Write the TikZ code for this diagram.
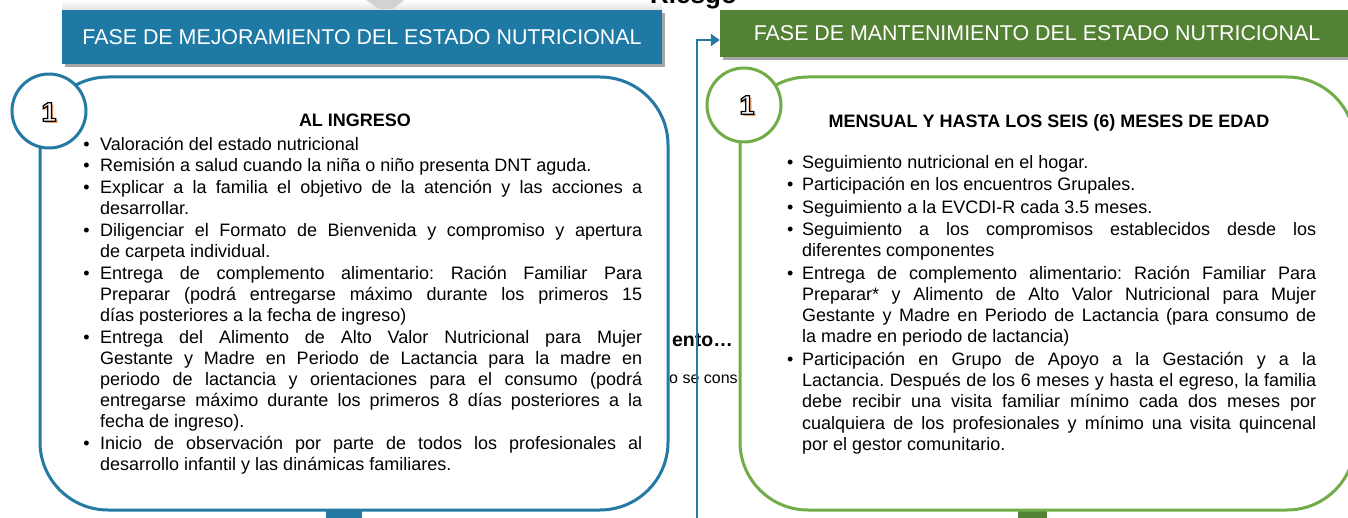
\documentclass[tikz,border=0pt]{standalone}
\usepackage{fontspec}
\setmainfont{Liberation Sans}
\usetikzlibrary{shadows,calc,arrows.meta}
\definecolor{hblue}{RGB}{31,121,165}
\definecolor{bblue}{RGB}{36,122,163}
\definecolor{hgreen}{RGB}{84,130,53}
\definecolor{bgreen}{RGB}{112,173,71}
\definecolor{sorange}{RGB}{240,160,100}
\newcommand\bitem[2]{\par\noindent\llap{\textbullet\hspace{#1}}#2}
\newcommand\bodysetup[1]{\frenchspacing\hyphenpenalty=10000 \tolerance=10000 \emergencystretch=20pt \setlength\parskip{#1}}
\newcommand\firststrut{\vrule height 17pt depth 0pt width 0pt\relax}
\newcommand\olone{\rlap{\hspace{2pt}\raisebox{-2pt}{\textcolor{sorange}{1}}}{\color{white}\special{pdf:literal direct 2 Tr 0 0 0 RG 1.3 w}1\special{pdf:literal direct 0 Tr}}}
\begin{document}
\begin{tikzpicture}[x=1pt,y=-1pt,
  header/.style={text=white, font=\fontsize{21.4}{24}\selectfont, inner sep=0,
    drop shadow={shadow xshift=2.5pt,shadow yshift=-3.5pt,opacity=0.35,fill=black}},
  bigbox/.style={draw, line width=3pt, fill=white, rounded corners=68pt, inner sep=0},
  numcircle/.style={circle, draw, line width=3pt, fill=white, inner sep=0, minimum size=74pt},
  digit/.style={font=\fontsize{27}{27}\selectfont\bfseries, inner sep=0},
  body/.style={font=\fontsize{18}{21}\selectfont, inner sep=0, align=justify, anchor=north west},
  titletext/.style={font=\fontsize{18}{21}\selectfont\bfseries, inner sep=0, anchor=base},
  conn/.style={draw=bblue, line width=2pt, -{Triangle[length=9pt,width=12pt]}},
  stub/.style={inner sep=0, anchor=north west},
]
\useasboundingbox (0,0) rectangle (1348,518);
\clip (0,0) rectangle (1348,518);
\fill[white] (0,0) rectangle (1348,518);
% faint material above the headers
\shade[top color=white, bottom color=gray!22] (62,0) rectangle (662,10);
\fill[gray!35] (366,0) -- (404,0) -- (393,9) -- (379,9) -- cycle;
\node[font=\fontsize{26}{26}\selectfont\bfseries, anchor=base west, inner sep=0] (riesgo) at (650,3.5) {Riesgo};
% hidden texts behind the boxes
\node[font=\fontsize{19.5}{19.5}\selectfont\bfseries, anchor=east, inner sep=0] (hid1) at (733,340) {ento…};
\node[font=\fontsize{16}{16}\selectfont, anchor=west, inner sep=0] (hid2) at (669,379) {o se cons};
% stubs at the bottom
\node[stub, fill=bblue, minimum width=36pt, minimum height=12pt] (bstub) at (326,506) {};
\node[stub, fill=hgreen, minimum width=29pt, minimum height=12pt] (gstub) at (1018,506) {};
% headers
\node[header, fill=hblue, minimum width=600pt, minimum height=54pt] (bhead) at (362,37)
  {FASE DE MEJORAMIENTO DEL ESTADO NUTRICIONAL};
\node[header, fill=hgreen, minimum width=634pt, minimum height=47pt] (ghead) at (1037,33.5)
  {FASE DE MANTENIMIENTO DEL ESTADO NUTRICIONAL};
% big boxes
\node[bigbox, draw=bblue, minimum width=628pt, minimum height=433pt] (lbox) at (354,293.5) {};
\node[bigbox, draw=bgreen, minimum width=615pt, minimum height=433pt] (gbox) at (1047.5,293.5) {};
% connector
\coordinate (cb) at (697,520);
\draw[conn] (cb) |- ([yshift=-6.5pt]ghead.west);
% number circles
\node[numcircle, draw=bblue] (c1) at (49,111) {};
\node[numcircle, draw=bgreen] (c2) at (744,105) {};
\node[digit] (d1) at (49,113) {\olone};
\node[digit] (d2) at (747,106) {\olone};
% titles
\node[titletext] (ltitle) at (355,126.5) {AL INGRESO};
\node[titletext] (rtitle) at (1049,127.5) {MENSUAL Y HASTA LOS SEIS (6) MESES DE EDAD};
% left text
\node[body, text width=542pt] (ltext) at (100,128) {\bodysetup{0.9pt}%
\bitem{10.5pt}{\firststrut Valoración del estado nutricional}
\bitem{10.5pt}{Remisión a salud cuando la niña o niño presenta DNT aguda.}
\bitem{10.5pt}{Explicar a la familia el objetivo de la atención y las acciones a\linebreak desarrollar.}
\bitem{10.5pt}{Diligenciar el Formato de Bienvenida y compromiso y apertura\linebreak de carpeta individual.}
\bitem{10.5pt}{Entrega de complemento alimentario: Ración Familiar Para\linebreak Preparar (podrá entregarse máximo durante los primeros 15\linebreak días posteriores a la fecha de ingreso)}
\bitem{10.5pt}{Entrega del Alimento de Alto Valor Nutricional para Mujer\linebreak Gestante y Madre en Periodo de Lactancia para la madre en\linebreak periodo de lactancia y orientaciones para el consumo (podrá\linebreak entregarse máximo durante los primeros 8 días posteriores a la\linebreak fecha de ingreso).}
\bitem{10.5pt}{Inicio de observación por parte de todos los profesionales al\linebreak desarrollo infantil y las dinámicas familiares.}
};
% right text
\node[body, text width=514pt, font=\fontsize{18}{21.2}\selectfont] (rtext) at (802,145.5) {\bodysetup{1.3pt}%
\bitem{8.7pt}{\firststrut Seguimiento nutricional en el hogar.}
\bitem{8.7pt}{Participación en los encuentros Grupales.}
\bitem{8.7pt}{Seguimiento a la EVCDI-R cada 3.5 meses.}
\bitem{8.7pt}{Seguimiento a los compromisos establecidos desde los\linebreak diferentes componentes}
\bitem{8.7pt}{Entrega de complemento alimentario: Ración Familiar Para\linebreak Preparar* y Alimento de Alto Valor Nutricional para Mujer\linebreak Gestante y Madre en Periodo de Lactancia (para consumo de\linebreak la madre en periodo de lactancia)}
\bitem{8.7pt}{Participación en Grupo de Apoyo a la Gestación y a la\linebreak Lactancia. Después de los 6 meses y hasta el egreso, la familia\linebreak debe recibir una visita familiar mínimo cada dos meses por\linebreak cualquiera de los profesionales y mínimo una visita quincenal\linebreak por el gestor comunitario.}
};
\end{tikzpicture}
\end{document}
